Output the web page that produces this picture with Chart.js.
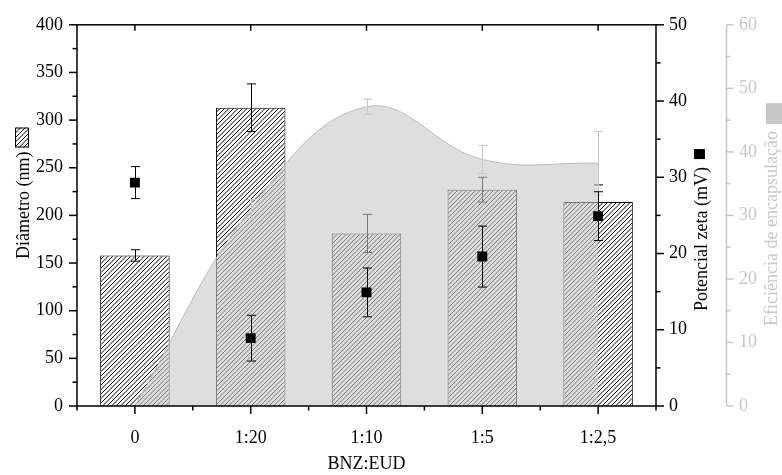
<!DOCTYPE html>
<html>
<head>
<meta charset="utf-8">
<script src="https://cdn.jsdelivr.net/npm/chart.js@4.4.1/dist/chart.umd.min.js"></script>
<style>
html,body{margin:0;padding:0;background:#fff;}
canvas{display:block;}
</style>
</head>
<body>
<canvas id="chart" width="782" height="475"></canvas>
<script>
const categories = ["0", "1:20", "1:10", "1:5", "1:2,5"];
const diametro = [158, 313, 181, 227, 214];
const diametroErr = [6, 25, 20, 13, 18];
const zeta = [29.3, 8.9, 14.9, 19.6, 24.9];
const zetaErr = [2.1, 3.0, 3.2, 4.0, 3.2];
const eficiencia = [0, 31, 47.1, 38.8, 38.2];
const eficienciaErr = [0, 1.5, 1.2, 2.2, 5.0];

const SERIF = "'Liberation Serif', 'Times New Roman', serif";
const LIGHT = "#c8c8c8";

// diagonal hatch used for the diameter bars
function hatch(){
  const s = 9, c = document.createElement("canvas");
  c.width = s; c.height = s;
  const g = c.getContext("2d");
  g.fillStyle = "#fff"; g.fillRect(0, 0, s, s);
  g.strokeStyle = "#000"; g.lineWidth = 1;
  for (const k of [0, 4.5, 9, 13.5, 18]) {
    g.beginPath(); g.moveTo(k, 0); g.lineTo(k - s, s); g.stroke();
  }
  return g.createPattern(c, "repeat");
}
const pattern = hatch();

function line(ctx, x1, y1, x2, y2){
  ctx.beginPath(); ctx.moveTo(x1, y1); ctx.lineTo(x2, y2); ctx.stroke();
}

const decor = {
  id: "decor",
  afterDatasetDraw(chart, args){
    const ds = chart.data.datasets[args.index];
    if (!ds.errors) return;
    const ctx = chart.ctx, sy = chart.scales[ds.yAxisID], sx = chart.scales.x;
    ctx.save();
    ctx.strokeStyle = ds.errorColor; ctx.lineWidth = 1;
    ds.data.forEach((v, i) => {
      const e = ds.errors[i];
      if (!e) return;
      const x = Math.round(sx.getPixelForValue(i)) + 0.5;
      const y1 = sy.getPixelForValue(v + e), y2 = sy.getPixelForValue(v - e);
      line(ctx, x, y1, x, y2);
      line(ctx, x - 4.5, y1, x + 4.5, y1);
      line(ctx, x - 4.5, y2, x + 4.5, y2);
    });
    ctx.restore();
  },
  afterDraw(chart){
    const {ctx, chartArea: a, scales} = chart;
    ctx.save();
    ctx.lineWidth = 1.5; ctx.strokeStyle = "#000";
    ctx.strokeRect(a.left, a.top, a.right - a.left, a.bottom - a.top);
    // left axis ticks
    for (let v = 0; v <= 400; v += 25) {
      const y = scales.y.getPixelForValue(v);
      line(ctx, a.left, y, a.left - (v % 50 ? 4.5 : 8), y);
    }
    // right zeta axis ticks
    for (let v = 0; v <= 50; v += 5) {
      const y = scales.y1.getPixelForValue(v);
      line(ctx, a.right, y, a.right + (v % 10 ? 4.5 : 8), y);
    }
    // category ticks, bottom and top
    categories.forEach((c, i) => {
      const x = scales.x.getPixelForValue(i);
      line(ctx, x, a.bottom, x, a.bottom + 8);
      line(ctx, x, a.top, x, a.top + 6);
    });
    for (let i = 0; i <= categories.length; i++) {
      const x = scales.x.getPixelForValue(i - 0.5);
      line(ctx, x, a.bottom, x, a.bottom + 4.5);
    }
    // efficiency axis
    const gx = scales.y2.left + 0.5;
    ctx.strokeStyle = LIGHT;
    line(ctx, gx, a.top, gx, a.bottom);
    for (let v = 0; v <= 60; v += 5) {
      const y = scales.y2.getPixelForValue(v);
      line(ctx, gx, y, gx + (v % 10 ? 4 : 7), y);
    }

    // axis titles
    ctx.font = "18px " + SERIF;
    ctx.textBaseline = "middle";
    ctx.fillStyle = "#000";
    ctx.textAlign = "center";
    ctx.fillText("BNZ:EUD", (a.left + a.right) / 2, 464);

    ctx.textAlign = "left";
    const vert = (text, x, y, color) => {
      ctx.save();
      ctx.translate(x, y); ctx.rotate(-Math.PI / 2);
      ctx.fillStyle = color; ctx.fillText(text, 0, 0);
      ctx.restore();
      return ctx.measureText(text).width;
    };
    let w = vert("Diâmetro (nm)", 24, 259, "#000");
    ctx.fillStyle = pattern; ctx.strokeStyle = "#000"; ctx.lineWidth = 1;
    ctx.fillRect(15, 259 - w - 24, 14, 20);
    ctx.strokeRect(15.5, 259 - w - 23.5, 13, 19);

    w = vert("Potencial zeta (mV)", 702, 311, "#000");
    ctx.fillStyle = "#000";
    ctx.fillRect(694, 311 - w - 18, 11, 10);

    w = vert("Eficiência de encapsulação", 772, 326, LIGHT);
    ctx.fillStyle = LIGHT;
    ctx.fillRect(766, 326 - w - 28, 16, 21);
    ctx.restore();
  }
};

const tickFont = { family: SERIF, size: 18 };
const noGrid = { display: false, drawTicks: false };

new Chart(document.getElementById("chart").getContext("2d"), {
  data: {
    labels: categories,
    datasets: [
      { type: "bar", label: "Diâmetro (nm)", data: diametro, yAxisID: "y",
        backgroundColor: pattern, borderColor: "#000", borderWidth: 1,
        barPercentage: 0.6, categoryPercentage: 1, order: 3,
        errors: diametroErr, errorColor: "#000" },
      { type: "line", label: "Eficiência de encapsulação", data: eficiencia, yAxisID: "y2",
        fill: "origin", backgroundColor: "rgba(200,200,200,0.6)", borderColor: "#bdbdbd",
        borderWidth: 1, tension: 0.4, pointRadius: 0, order: 2,
        errors: eficienciaErr, errorColor: LIGHT },
      { type: "line", label: "Potencial zeta (mV)", data: zeta, yAxisID: "y1",
        showLine: false, pointStyle: "rect", pointRadius: 7, borderWidth: 0,
        backgroundColor: "#000", borderColor: "#000", order: 1,
        errors: zetaErr, errorColor: "#000" }
    ]
  },
  options: {
    responsive: false,
    animation: false,
    layout: { padding: { top: 21, left: 0, right: 0, bottom: 0 } },
    plugins: { legend: { display: false }, tooltip: { enabled: false } },
    scales: {
      x: { offset: true, grid: noGrid, border: { display: false },
        ticks: { color: "#000", font: tickFont, padding: 21, maxRotation: 0 },
        afterFit: s => { s.height = 69; } },
      y: { position: "left", min: 0, max: 400, grid: noGrid, border: { display: false },
        ticks: { stepSize: 50, color: "#000", font: tickFont, padding: 14 },
        afterFit: s => { s.width = 77; } },
      y1: { position: "right", min: 0, max: 50, weight: 0, grid: noGrid, border: { display: false },
        ticks: { stepSize: 10, color: "#000", font: tickFont, padding: 13 },
        afterFit: s => { s.width = 70; } },
      y2: { position: "right", min: 0, max: 60, weight: 1, grid: noGrid, border: { display: false },
        ticks: { stepSize: 10, color: LIGHT, font: tickFont, padding: 13 },
        afterFit: s => { s.width = 56; } }
    }
  },
  plugins: [decor]
});
</script>
</body>
</html>
